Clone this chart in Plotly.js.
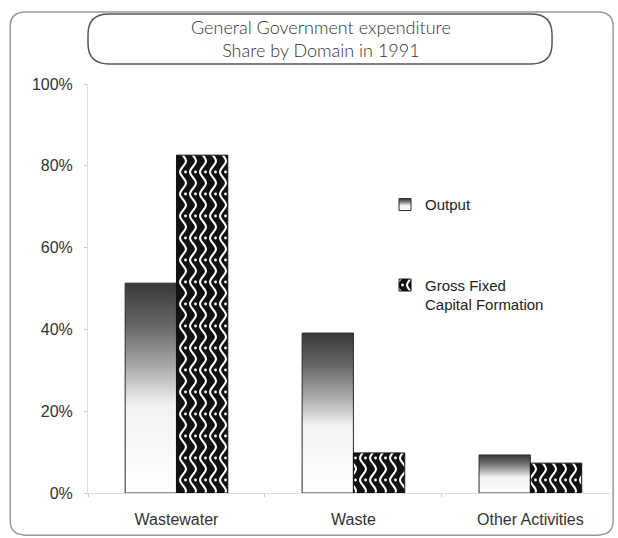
<!DOCTYPE html>
<html>
<head>
<meta charset="utf-8">
<script src="https://cdn.plot.ly/plotly-3.0.1.min.js"></script>
<style>
  html, body { margin: 0; padding: 0; background: #fff; }
  #chart { width: 618px; height: 538px; }
</style>
</head>
<body>
<div id="chart"></div>
<script>
// General Government expenditure, share by domain in 1991 (%)
var domains = ['Wastewater', 'Waste', 'Other Activities'];
var outputShare = [51.3, 39.1, 9.3];
var gfcfShare = [82.6, 9.8, 7.3];
var seriesNames = ['Output', 'Gross Fixed<br>Capital Formation'];
var titleLines = ['General Government expenditure', 'Share by Domain in 1991'];

var data = [{
  type: 'bar',
  x: domains,
  y: outputShare,
  name: seriesNames[0],
  legendgroup: 'a',
  marker: {color: '#9a9a9a', line: {color: '#2a2a2a', width: 1}},
  hoverinfo: 'none'
}, {
  type: 'bar',
  x: domains,
  y: gfcfShare,
  name: seriesNames[1],
  legendgroup: 'b',
  marker: {color: '#111', line: {color: '#111', width: 1}},
  hoverinfo: 'none'
}];

// rounded box helper, in paper coords
function roundBox(x0, y0, x1, y1, rx, ry) {
  return 'M' + (x0 + rx) + ',' + y1 +
    ' L' + (x1 - rx) + ',' + y1 +
    ' Q' + x1 + ',' + y1 + ' ' + x1 + ',' + (y1 - ry) +
    ' L' + x1 + ',' + (y0 + ry) +
    ' Q' + x1 + ',' + y0 + ' ' + (x1 - rx) + ',' + y0 +
    ' L' + (x0 + rx) + ',' + y0 +
    ' Q' + x0 + ',' + y0 + ' ' + x0 + ',' + (y0 + ry) +
    ' L' + x0 + ',' + (y1 - ry) +
    ' Q' + x0 + ',' + y1 + ' ' + (x0 + rx) + ',' + y1 + ' Z';
}

var tickFont = {family: 'Liberation Sans, Arial, sans-serif', size: 16, color: '#333'};
var titleFont = {family: 'Lato, sans-serif', size: 18, color: '#333', weight: 300};

var layout = {
  width: 618,
  height: 538,
  margin: {l: 88, r: 8, t: 84, b: 45},
  paper_bgcolor: '#fff',
  plot_bgcolor: '#fff',
  barmode: 'group',
  bargap: 0.42,
  bargroupgap: 0,
  showlegend: true,
  legend: {
    x: 0.569, y: 0.745, xanchor: 'left', yanchor: 'top',
    bgcolor: 'rgba(0,0,0,0)',
    font: {family: 'Liberation Sans, Arial, sans-serif', size: 15, color: '#222'},
    tracegroupgap: 58,
    valign: 'top',
    itemwidth: 30
  },
  annotations: [{
    text: titleLines.join('<br>'), showarrow: false,
    xref: 'paper', yref: 'paper', x: 0.446, y: (493 - 38) / 409,
    xanchor: 'center', yanchor: 'middle', font: titleFont
  }],
  xaxis: {
    type: 'category',
    range: [-0.5, 2.45],
    showline: true, linecolor: '#ddd', linewidth: 1,
    ticks: 'outside', ticklen: 3, tickcolor: '#ccc',
    tickson: 'boundaries',
    ticklabelstandoff: 12,
    tickfont: tickFont,
    showgrid: false, zeroline: false
  },
  yaxis: {
    range: [0, 100],
    dtick: 20,
    ticksuffix: '%',
    showline: true, linecolor: '#ddd', linewidth: 1,
    ticks: 'outside', ticklen: 3, tickcolor: '#ccc',
    ticklabelstandoff: 8,
    tickfont: tickFont,
    showgrid: false, zeroline: false
  },
  shapes: [{
    type: 'path', xref: 'paper', yref: 'paper', layer: 'below',
    path: roundBox(-0.149, -0.103, 1.006, 1.176, 0.03, 0.035),
    line: {color: '#999', width: 1.5}
  }, {
    type: 'path', xref: 'paper', yref: 'paper', layer: 'below',
    path: roundBox(0.0, 1.049, 0.889, 1.171, 0.04, 0.05),
    fillcolor: '#fff',
    line: {color: '#555', width: 1.5}
  }]
};

Plotly.newPlot('chart', data, layout, {staticPlot: true}).then(function(gd) {
  var NS = 'http://www.w3.org/2000/svg';
  var svg = gd.querySelector('svg.main-svg');
  var defs = svg.querySelector('defs') || svg.insertBefore(document.createElementNS(NS, 'defs'), svg.firstChild);

  var grad = document.createElementNS(NS, 'linearGradient');
  grad.setAttribute('id', 'outGrad');
  grad.setAttribute('x1', '0'); grad.setAttribute('y1', '0');
  grad.setAttribute('x2', '0'); grad.setAttribute('y2', '1');
  [['0', '#383838'], ['0.2', '#666'], ['0.4', '#aaa'], ['0.58', '#f2f2f2'], ['1', '#fff']].forEach(function(s) {
    var st = document.createElementNS(NS, 'stop');
    st.setAttribute('offset', s[0]);
    st.setAttribute('stop-color', s[1]);
    grad.appendChild(st);
  });
  defs.appendChild(grad);

  // black fill with white wavy vertical lines
  var pat = document.createElementNS(NS, 'pattern');
  pat.setAttribute('id', 'wavePat');
  pat.setAttribute('patternUnits', 'userSpaceOnUse');
  pat.setAttribute('width', '10');
  pat.setAttribute('height', '22');
  var bg = document.createElementNS(NS, 'rect');
  bg.setAttribute('width', '10'); bg.setAttribute('height', '22');
  bg.setAttribute('fill', '#111');
  pat.appendChild(bg);
  var wv = document.createElementNS(NS, 'path');
  wv.setAttribute('d', 'M2,0 C2,4 8,7 8,11 C8,15 2,18 2,22');
  wv.setAttribute('fill', 'none');
  wv.setAttribute('stroke', '#fff');
  wv.setAttribute('stroke-width', '2');
  pat.appendChild(wv);
  [0, 22].forEach(function(cy) {
    var dot = document.createElementNS(NS, 'circle');
    dot.setAttribute('cx', '7.5'); dot.setAttribute('cy', cy); dot.setAttribute('r', '1.4');
    dot.setAttribute('fill', '#fff');
    pat.appendChild(dot);
  });
  defs.appendChild(pat);

  var fills = ['url(#outGrad)', 'url(#wavePat)'];
  gd.querySelectorAll('.barlayer .trace').forEach(function(tr, i) {
    tr.querySelectorAll('path').forEach(function(p) { p.style.fill = fills[i]; });
  });
  gd.querySelectorAll('.legend .traces').forEach(function(tr, i) {
    tr.querySelectorAll('.legendpoints path').forEach(function(p) { p.style.fill = fills[i]; });
  });
});
</script>
</body>
</html>
